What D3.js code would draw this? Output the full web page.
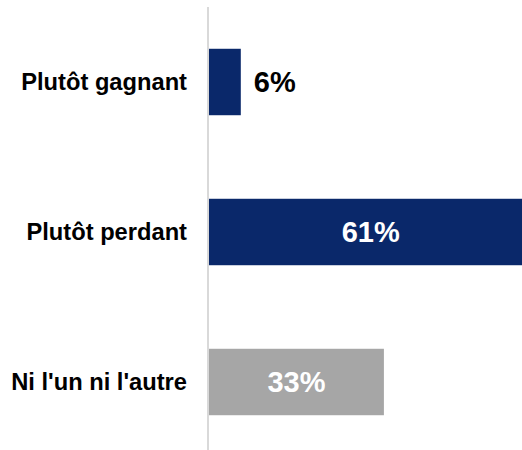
<!DOCTYPE html>
<html>
<head>
<meta charset="utf-8">
<script src="https://cdn.jsdelivr.net/npm/d3@7"></script>
<style>
  html, body { margin: 0; padding: 0; background: #fff; overflow: hidden; }
  text { font-family: "Liberation Sans", Arial, sans-serif; font-weight: bold; }
</style>
</head>
<body>
<div id="container"></div>
<script>
"use strict";

// data
const categories = ["Plutôt gagnant", "Plutôt perdant", "Ni l'un ni l'autre"];
const values = [6, 61, 33];
const labels = ["6%", "61%", "33%"];

const width = 522,
    height = 450,
    axisX = 208;

const svg = d3.select("#container").append("svg")
    .attr("width", width)
    .attr("height", height);

// bar scale runs past the right edge, the big bar gets cut like in the source
const x = d3.scaleLinear()
    .domain([0, 100])
    .range([axisX + 1, axisX + 1 + 530]);

const y = d3.scaleBand()
    .domain(categories)
    .range([7, 457])
    .paddingInner(0.557)
    .paddingOuter(0.2785);

const color = d3.scaleOrdinal()
    .domain(categories)
    .range(["#0a286a", "#0a286a", "#a6a6a6"]);

const rows = categories.map((c, i) => ({cat: c, val: values[i], label: labels[i]}));

// bars
svg.append("g")
    .selectAll("rect")
    .data(rows)
    .enter().append("rect")
        .attr("x", x(0))
        .attr("y", d => y(d.cat))
        .attr("width", d => x(d.val) - x(0))
        .attr("height", y.bandwidth())
        .attr("fill", d => color(d.cat));

// vertical axis line
svg.append("line")
    .attr("x1", axisX)
    .attr("x2", axisX)
    .attr("y1", y.range()[0])
    .attr("y2", y.range()[1])
    .attr("stroke", "#d9d9d9")
    .attr("stroke-width", 2);

// category labels
svg.append("g")
    .selectAll("text")
    .data(rows)
    .enter().append("text")
        .attr("x", axisX - 21)
        .attr("y", d => y(d.cat) + y.bandwidth() / 2)
        .attr("dy", "0.35em")
        .attr("text-anchor", "end")
        .attr("font-size", "23.7px")
        .attr("fill", "#000")
        .text(d => d.cat);

// value labels: inside (white) for wide bars, outside (black) for the small one
svg.append("g")
    .selectAll("text")
    .data(rows)
    .enter().append("text")
        .attr("x", function(d) {
            if (d.val < 15) return x(d.val) + 13;
            return (x(0) + x(d.val)) / 2;
        })
        .attr("y", d => y(d.cat) + y.bandwidth() / 2)
        .attr("dy", "0.35em")
        .attr("text-anchor", d => d.val < 15 ? "start" : "middle")
        .attr("font-size", "29px")
        .attr("fill", d => d.val < 15 ? "#000" : "#fff")
        .text(d => d.label);
</script>
</body>
</html>
